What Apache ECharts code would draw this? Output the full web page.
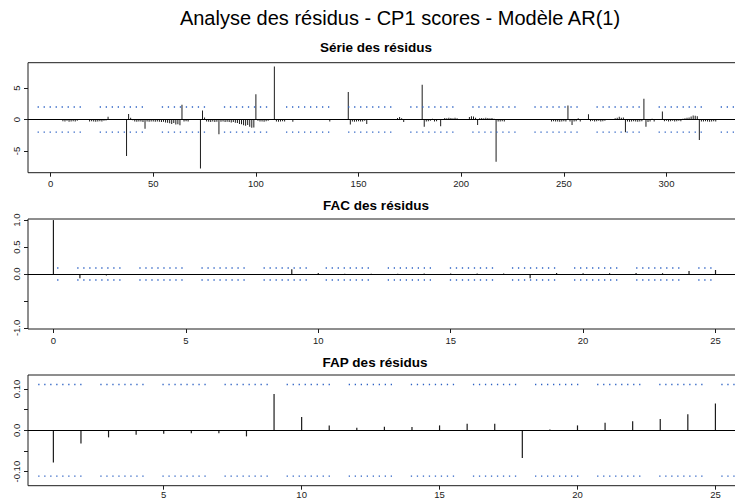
<!DOCTYPE html>
<html>
<head>
<meta charset="utf-8">
<script src="https://cdn.jsdelivr.net/npm/echarts@6/dist/echarts.min.js"></script>
<style>
  html, body { margin: 0; padding: 0; background: #ffffff; }
  #chart { width: 735px; height: 500px; }
</style>
</head>
<body>
<div id="chart"></div>
<script>
// Residuals of the AR(1) model fitted to the CP1 scores (one value per time index, starting at 1)
const residuals = [
  0.03, -0.02, 0.04, -0.03, 0.02, -0.25, -0.3, -0.2, -0.35, -0.3, -0.25, -0.3, -0.2, 0.04, -0.03, 0.02, 0.05, -0.04, -0.3, -0.25, -0.3, -0.35, -0.3, -0.25, -0.3,
  -0.2, -0.15, 0.45, 0.03, -0.02, 0.04, 0.02, -0.03, 0.02, 0.03, -0.02, -5.8, 0.9, 0.3, -0.1, -0.3, -0.35, -0.3, -0.3, -0.4, -1.45, -0.3, -0.35, -0.3, -0.3,
  -0.35, -0.3, -0.35, -0.4, -0.35, -0.45, -0.5, -0.6, -0.7, -0.55, -0.8, -0.75, -0.9, 2.35, -0.3, -0.25, -0.3, 0.03, -0.02, 0.02, -0.03, 0.02, -7.8, 1.45, 0.35,
  -0.3, -0.35, -0.4, -0.3, -0.4, -0.35, -2.35, -0.35, -0.3, -0.4, -0.35, -0.4, -0.45, -0.4, -0.5, -0.55, -0.7, -0.75, -0.9, -1.0, -0.85, -1.15, -1.3, -1.25, 4.05,
  -0.2, -0.3, -0.3, -0.35, -0.25, -0.2, 0.02, -0.03, 8.45, -0.3, -0.35, -0.3, -0.25, -0.3, 0.02, -0.03, 0.04, -0.35, 0.03, -0.02, 0.02, 0.04, -0.03, 0.02, -0.02,
  0.02, -0.03, 0.03, 0.01, -0.02, 0.04, -0.03, 0.02, 0.03, -0.04, -0.3, 0.02, -0.02, 0.03, -0.03, 0.02, 0.04, -0.02, 0.03, 4.4, -0.8, -0.3, -0.35, -0.3, -0.25,
  -0.3, -0.3, -0.2, -0.7, 0.02, -0.03, 0.03, -0.02, 0.04, 0.02, -0.03, 0.02, -0.02, 0.03, 0.01, -0.03, 0.02, 0.04, 0.25, 0.4, 0.2, -0.4, 0.02, -0.03, 0.03,
  -0.02, 0.03, 0.02, -0.03, 0.02, 5.55, -1.15, -0.3, -0.25, -0.2, 0.15, -0.3, -0.25, 0.02, -1.05, 0.1, 0.25, 0.2, 0.3, 0.25, 0.2, 0.3, 0.2, 0.03, -0.02,
  0.02, -0.03, 0.04, 0.4, 0.55, 0.5, 0.3, -0.85, 0.2, 0.25, 0.2, 0.3, 0.25, 0.2, 0.25, 0.15, -6.7, -0.3, -0.3, -0.25, -0.3, 0.02, -0.03, 0.03, -0.02,
  0.03, -0.02, 0.02, 0.04, -0.03, 0.02, -0.02, 0.03, 0.01, -0.03, 0.02, 0.04, -0.02, 0.03, -0.03, 0.02, 0.03, -0.02, -0.3, -0.25, -0.3, -0.3, -0.35, -0.3, -0.25,
  -0.3, 2.25, -0.3, -0.85, -0.3, -0.25, 0.2, -0.3, 0.02, -0.03, 0.03, 0.85, -0.25, -0.2, -0.3, -0.25, -0.2, -0.3, -0.25, -0.2, 0.02, -0.03, 0.03, -0.02, 0.2,
  0.3, 0.45, 0.3, 0.35, -2.0, -0.3, -0.35, -0.3, -0.25, -0.3, -0.35, -0.3, -0.25, 3.3, -1.15, -0.4, -0.3, 0.15, -0.3, 0.02, -0.03, 0.03, 1.3, -0.25, -0.2,
  -0.3, -0.25, -0.2, -0.3, -0.25, -0.2, -0.25, 0.15, 0.2, 0.3, 0.35, 0.5, 0.65, 0.6, 0.55, -3.25, -0.3, -0.3, -0.25, -0.3, -0.35, -0.3, -0.25, -0.3, -0.05
];

// Autocorrelation (FAC) by lag
const acfLags = [0, 1, 2, 3, 4, 5, 6, 7, 8, 9, 10, 11, 12, 13, 14, 15, 16, 17, 18, 19, 20, 21, 22, 23, 24, 25];
const acfValues = [1, -0.078, -0.028, -0.01, -0.02, -0.006, -0.02, -0.004, -0.003, 0.09, 0.02, 0.005, 0.004, 0.006, 0.008, 0.01, 0.01, 0.008, -0.08, 0.02, 0.015, 0.015, 0.02, 0.015, 0.055, 0.074];

// Partial autocorrelation (FAP) by lag
const pacfLags = [1, 2, 3, 4, 5, 6, 7, 8, 9, 10, 11, 12, 13, 14, 15, 16, 17, 18, 19, 20, 21, 22, 23, 24, 25];
const pacfValues = [-0.078, -0.032, -0.017, -0.0105, -0.008, -0.007, -0.007, -0.0146, 0.088, 0.0325, 0.012, 0.006, 0.009, 0.008, 0.012, 0.016, 0.016, -0.067, 0.002, 0.012, 0.0187, 0.022, 0.0275, 0.039, 0.065];

// Significance bands
const residualBand = 2;
const corrBand = 0.111;

// Tick positions and labels
const residTicksX = [0, 50, 100, 150, 200, 250, 300];
const residTicksY = [-5, 0, 5];
const acfTicksX = [0, 5, 10, 15, 20, 25];
const acfTicksY = [-1, -0.5, 0, 0.5, 1];
const acfLabelsY = [-1, 0, 0.5, 1];
const pacfTicksX = [5, 10, 15, 20, 25];
const pacfTicksY = [-0.1, -0.05, 0, 0.05, 0.1];
const pacfLabelsY = [-0.1, 0, 0.1];

const mainTitle = 'Analyse des résidus - CP1 scores - Modèle AR(1)';
const panelTitles = ['Série des résidus', 'FAC des résidus', 'FAP des résidus'];

const FONT = '"Liberation Sans", Arial, Helvetica, sans-serif';
const INK = '#1c1c1c';
const BAND = '#2d62c4';

// Dotted pattern: runs of 8 dots separated by a wider gap
function dotPattern() {
  const p = [];
  for (let i = 0; i < 7; i++) p.push(1.3, 4.7);
  p.push(1.3, 18.8);
  return p;
}

function xAxisCfg(gridIndex, min, max, ticks, margin) {
  return {
    type: 'value', gridIndex, min, max, position: 'bottom',
    splitLine: { show: false },
    axisLine: { show: false, onZero: false },
    axisTick: { show: true, inside: false, length: 4, customValues: ticks, lineStyle: { color: INK, width: 1 } },
    axisLabel: { customValues: ticks, margin: margin, fontSize: 9.5, color: INK, fontFamily: FONT }
  };
}

function yAxisCfg(gridIndex, min, max, ticks, labels, fmt) {
  return {
    type: 'value', gridIndex, min, max, position: 'left',
    splitLine: { show: false },
    axisLine: { show: false, onZero: false },
    axisTick: { show: true, inside: false, length: 4, customValues: ticks, lineStyle: { color: INK, width: 1 } },
    axisLabel: {
      customValues: labels, rotate: 90, align: 'center', verticalAlign: 'bottom',
      margin: 7, fontSize: 9.5, color: INK, fontFamily: FONT, formatter: fmt
    }
  };
}

function zeroLine() {
  return {
    silent: true, symbol: ['none', 'none'], animation: false,
    label: { show: false },
    lineStyle: { color: '#000', width: 1, type: 'solid' },
    data: [{ yAxis: 0 }]
  };
}

function stems(axisIndex, xs, ys, width) {
  return {
    type: 'bar', xAxisIndex: axisIndex, yAxisIndex: axisIndex,
    data: xs.map((x, i) => [x, ys[i]]),
    barWidth: width, barGap: '-100%',
    itemStyle: { color: INK },
    markLine: zeroLine(),
    animation: false, silent: true
  };
}

function band(axisIndex, x0, x1, y, offset) {
  return {
    type: 'line', xAxisIndex: axisIndex, yAxisIndex: axisIndex,
    data: [[x0, y], [x1, y]],
    symbol: 'none', silent: true, animation: false, z: 3,
    lineStyle: { color: BAND, width: 1.3, type: dotPattern(), dashOffset: offset }
  };
}

function heading(text, x, y, font) {
  return {
    type: 'text', x: x, y: y,
    style: { text: text, font: font, fill: '#000', align: 'center', verticalAlign: 'middle', textAlign: 'center', textVerticalAlign: 'middle' }
  };
}

const gridBase = { left: 28, right: -9.5, height: 110, show: true, borderColor: INK, borderWidth: 1, outerBoundsMode: 'none' };

const chart = echarts.init(document.getElementById('chart'), null, { renderer: 'svg' });
chart.setOption({
  backgroundColor: '#ffffff',
  animation: false,
  textStyle: { fontFamily: FONT },
  graphic: [
    heading(mainTitle, 400, 18, '20px ' + FONT),
    heading(panelTitles[0], 376, 47, 'bold 13.5px ' + FONT),
    heading(panelTitles[1], 376, 205, 'bold 13.5px ' + FONT),
    heading(panelTitles[2], 375, 362, 'bold 13.5px ' + FONT)
  ],
  grid: [
    Object.assign({}, gridBase, { top: 62.7 }),
    Object.assign({}, gridBase, { top: 219, right: -7 }),
    Object.assign({}, gridBase, { top: 375, height: 110.7, right: -8 })
  ],
  xAxis: [
    xAxisCfg(0, -11, 338, residTicksX, 6),
    xAxisCfg(1, -0.96, 26, acfTicksX, 6),
    xAxisCfg(2, 0.08, 26, pacfTicksX, 3.5)
  ],
  yAxis: [
    yAxisCfg(0, -8.45, 9.05, residTicksY, residTicksY, v => String(v)),
    yAxisCfg(1, -1.02, 1.02, acfTicksY, acfLabelsY, v => v.toFixed(1)),
    yAxisCfg(2, -0.134, 0.134, pacfTicksY, pacfLabelsY, v => (v === 0 ? '0.0' : v.toFixed(2)))
  ],
  series: [
    stems(0, residuals.map((_, i) => i + 1), residuals, 1),
    band(0, -6.33, 338, residualBand, 0),
    band(0, -6.33, 338, -residualBand, 0),
    stems(1, acfLags, acfValues, 1.2),
    band(1, 0.14, 24.85, corrBand, 42),
    band(1, 0.14, 24.85, -corrBand, 42),
    stems(2, pacfLags, pacfValues, 1.2),
    band(2, 0.45, 26, corrBand, 0),
    band(2, 0.45, 26, -corrBand, 0)
  ]
});
</script>
</body>
</html>
